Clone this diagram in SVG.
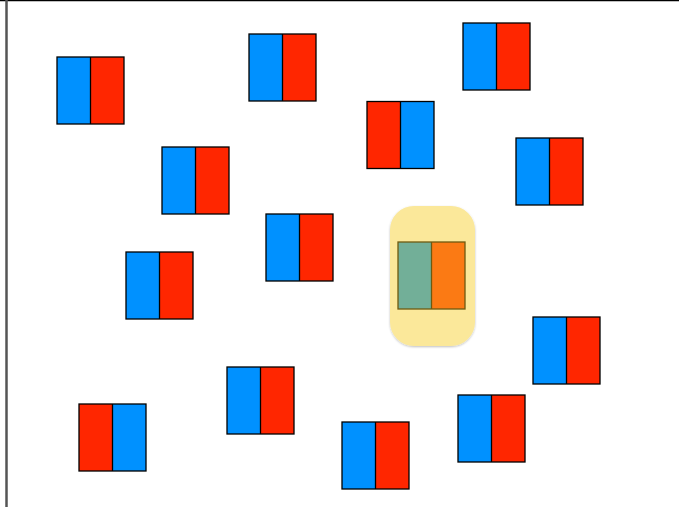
<svg xmlns="http://www.w3.org/2000/svg" width="679" height="507" viewBox="0 0 679 507">
<defs>
<style>
.b{fill:#0091FF}
.r{fill:#FF2600}
.o{fill:none;stroke:#000;stroke-width:1.3}
.d{stroke:#000;stroke-width:1.3}
</style>
<filter id="sh" x="-20%" y="-20%" width="140%" height="140%">
<feDropShadow dx="0" dy="1" stdDeviation="1.2" flood-color="#000" flood-opacity="0.25"/>
</filter>
<g id="br">
<rect class="b" x="0" y="0" width="33.5" height="67"/>
<rect class="r" x="33.5" y="0" width="33.5" height="67"/>
<line class="d" x1="33.5" y1="0" x2="33.5" y2="67"/>
<rect class="o" x="0" y="0" width="67" height="67"/>
</g>
<g id="rb">
<rect class="r" x="0" y="0" width="33.5" height="67"/>
<rect class="b" x="33.5" y="0" width="33.5" height="67"/>
<line class="d" x1="33.5" y1="0" x2="33.5" y2="67"/>
<rect class="o" x="0" y="0" width="67" height="67"/>
</g>
</defs>
<rect width="679" height="507" fill="#fff"/>
<line x1="0" y1="0.5" x2="679" y2="0.5" stroke="#000" stroke-width="1.5"/>
<line x1="6.5" y1="0" x2="6.5" y2="507" stroke="#555" stroke-width="2.5"/>
<g id="n1"><use href="#br" x="57" y="57"/></g>
<g id="n2"><use href="#br" x="249" y="34"/></g>
<g id="n3"><use href="#br" x="463" y="23"/></g>
<g id="n4"><use href="#rb" x="367" y="101.5"/></g>
<g id="n5"><use href="#br" x="162" y="147"/></g>
<g id="n6"><use href="#br" x="516" y="138"/></g>
<g id="n7"><use href="#br" x="266" y="214"/></g>
<g id="n8"><use href="#br" x="126" y="252"/></g>
<g id="n9">
<rect x="390" y="206" width="85" height="140" rx="24" fill="#FBE89A" filter="url(#sh)"/>
<rect x="398" y="242" width="33.5" height="67" fill="#72AF98"/>
<rect x="431.5" y="242" width="33.5" height="67" fill="#FB7A14"/>
<line x1="431.5" y1="242" x2="431.5" y2="309" stroke="#6E5A10" stroke-width="1.3"/>
<rect x="398" y="242" width="67" height="67" fill="none" stroke="#6E5A10" stroke-width="1.3"/>
</g>
<g id="n10"><use href="#br" x="533" y="317"/></g>
<g id="n11"><use href="#br" x="227" y="367"/></g>
<g id="n12"><use href="#rb" x="79" y="404"/></g>
<g id="n13"><use href="#br" x="458" y="395"/></g>
<g id="n14"><use href="#br" x="342" y="422"/></g>
<g id="connectors"></g>
</svg>
